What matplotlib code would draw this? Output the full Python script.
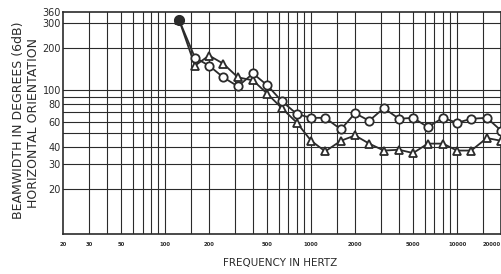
# Beamwidth (6dB) vs frequency, horizontal orientation, redrawn from a scanned chart

import numpy as np
import matplotlib
matplotlib.use('Agg')
import matplotlib.pyplot as plt

freqs = [125, 160, 200, 250, 315, 400, 500, 630, 800, 1000, 1250, 1600,
         2000, 2500, 3150, 4000, 5000, 6300, 8000, 10000, 12500, 16000, 20000]
circle_beamwidth = [314, 171, 150, 124, 107, 132, 109, 84, 68, 64, 64, 53,
                    69, 61, 75, 63, 64, 55, 64, 59, 63, 64, 52]
triangle_beamwidth = [314, 150, 177, 155, 124, 118, 95, 75, 59, 44, 37, 44,
                      48, 42, 37.5, 38, 36, 42, 42, 37.5, 37.5, 46, 44]

x_grid = [30, 40, 50, 60, 70, 80, 90, 100, 150, 200, 300, 400, 500, 600, 700, 800, 900,
          1000, 1500, 2000, 3000, 4000, 5000, 6000, 7000, 8000, 9000, 10000, 15000]
x_tick_values = [20, 30, 50, 100, 200, 500, 1000, 2000, 5000, 10000, 20000]
x_tick_labels = ['20', '30', '50', '100', '200', '500', '1000', '2000', '5000', '10000', '20000']
y_grid = [20, 30, 40, 50, 60, 70, 80, 90, 100, 200, 300]
y_tick_values = [20, 30, 40, 60, 80, 100, 200, 300, 360]
y_tick_labels = ['20', '30', '40', '60', '80', '100', '200', '300', '360']

INK = '#2b2b2b'


def plot_data():
    fig = plt.figure(figsize=(5.01, 2.74), dpi=100)
    ax = fig.add_axes([0.126, 0.146, 0.874, 0.810])
    ax.set_xscale('log')
    ax.set_yscale('log')
    ax.set_xlim(20, 20000)
    ax.set_ylim(9.6, 360)

    for x in x_grid:
        ax.axvline(x, color=INK, linewidth=0.8, zorder=1)
    for y in y_grid:
        ax.axhline(y, color=INK, linewidth=0.8, zorder=1)

    ax.plot(freqs, triangle_beamwidth, color=INK, linewidth=1.3, marker='^',
            markersize=6, markerfacecolor='white', markeredgewidth=1.3, zorder=3)
    ax.plot(freqs, circle_beamwidth, color=INK, linewidth=1.3, marker='o',
            markersize=6, markerfacecolor='white', markeredgewidth=1.3, zorder=4)
    ax.plot(freqs[0], circle_beamwidth[0], 'o', color=INK, markersize=7, zorder=5)

    ax.xaxis.set_minor_locator(matplotlib.ticker.NullLocator())
    ax.yaxis.set_minor_locator(matplotlib.ticker.NullLocator())
    ax.set_xticks(x_tick_values)
    ax.set_xticklabels(x_tick_labels, fontsize=3.8, fontweight='bold', color=INK)
    ax.get_xticklabels()[-1].set_horizontalalignment('right')
    ax.set_yticks(y_tick_values)
    ax.set_yticklabels(y_tick_labels, fontsize=7, color=INK)
    ax.tick_params(axis='x', length=0, pad=5.5)
    ax.tick_params(axis='y', length=0, pad=1.5)

    for side in ax.spines.values():
        side.set_color(INK)
        side.set_linewidth(1.2)

    fig.text(0.56, 0.04, 'FREQUENCY IN HERTZ', fontsize=7.5, color=INK, ha='center', va='center')
    fig.text(0.036, 0.562, 'BEAMWIDTH IN DEGREES (6dB)', fontsize=9, color=INK,
             rotation=90, ha='center', va='center')
    fig.text(0.066, 0.55, 'HORIZONTAL ORIENTATION', fontsize=9, color=INK,
             rotation=90, ha='center', va='center')

    fig.savefig('out.png', dpi=100)


def main():
    plot_data()


if __name__ == '__main__':
    main()
